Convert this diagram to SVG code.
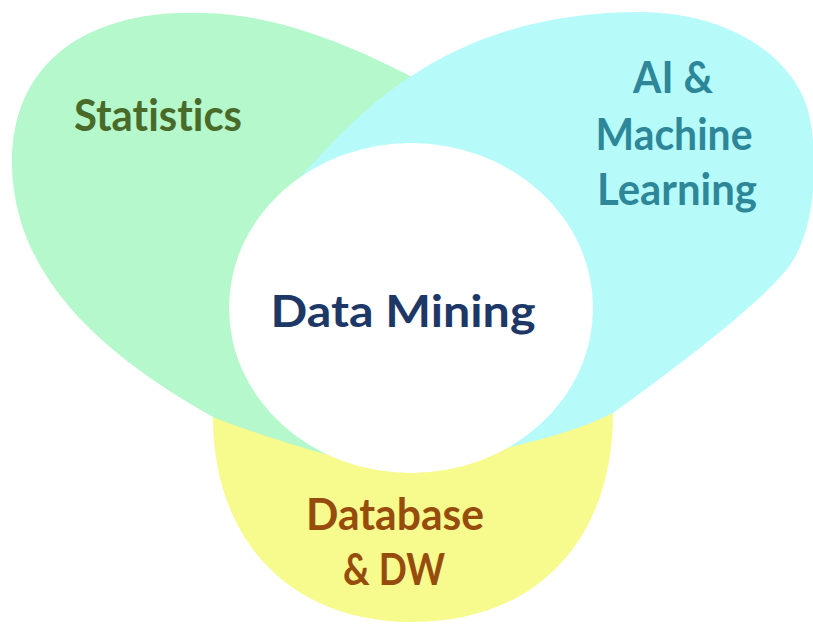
<svg xmlns="http://www.w3.org/2000/svg" width="813" height="628" viewBox="0 0 813 628">
<style>
.lbl{font-family:Lato,"Open Sans","Liberation Sans",sans-serif;font-weight:bold;font-size:43px;text-anchor:middle;font-variant-ligatures:none;font-feature-settings:"liga" 0,"dlig" 0}
.stat{fill:#4a6a2a}
.ai{fill:#2e8798}
.dm{fill:#1d3767}
.db{fill:#964c0c}
</style>
<rect width="813" height="628" fill="#ffffff"/>
<g id="database">
<path d="M 213,417 C 213,540 290,622 413,622 C 536,622 613,540 613,413 Q 413,330 213,417 Z" fill="#f7fa8c"/>
<text class="lbl db" x="395" y="530" textLength="178" lengthAdjust="spacingAndGlyphs">Database</text>
<text class="lbl db" x="394" y="585" textLength="102" lengthAdjust="spacingAndGlyphs">&amp; DW</text>
</g>
<g id="statistics">
<path d="M 200,13 C 270,13 345,42 410,76 L 470,120 L 460,260 L 345,460 C 300,447 250,432 213,417 C 130,370 15,292 12,167 C 10,60 90,10 200,13 Z" fill="#b4f8cb"/>
<text class="lbl stat" x="158" y="131" textLength="168" lengthAdjust="spacingAndGlyphs">Statistics</text>
</g>
<g id="ai-ml">
<path d="M 410,77 C 480,30 560,12 640,12 C 720,12 790,50 808,110 C 820,160 815,230 790,265 C 765,300 680,365 613,413 C 580,430 540,440 490,452 L 400,300 L 268,212 C 300,180 350,115 410,77 Z" fill="#b6fbfa"/>
<text class="lbl ai" x="673" y="93" textLength="80" lengthAdjust="spacingAndGlyphs">AI &amp;</text>
<text class="lbl ai" x="674" y="150" textLength="157" lengthAdjust="spacingAndGlyphs">Machine</text>
<text class="lbl ai" x="677" y="205" textLength="160" lengthAdjust="spacingAndGlyphs">Learning</text>
</g>
<g id="data-mining">
<ellipse cx="411" cy="308" rx="182" ry="165" fill="#ffffff"/>
<text class="lbl dm" x="403" y="327" textLength="265" lengthAdjust="spacingAndGlyphs">Data Mining</text>
</g>
<g id="connectors"/>
</svg>
